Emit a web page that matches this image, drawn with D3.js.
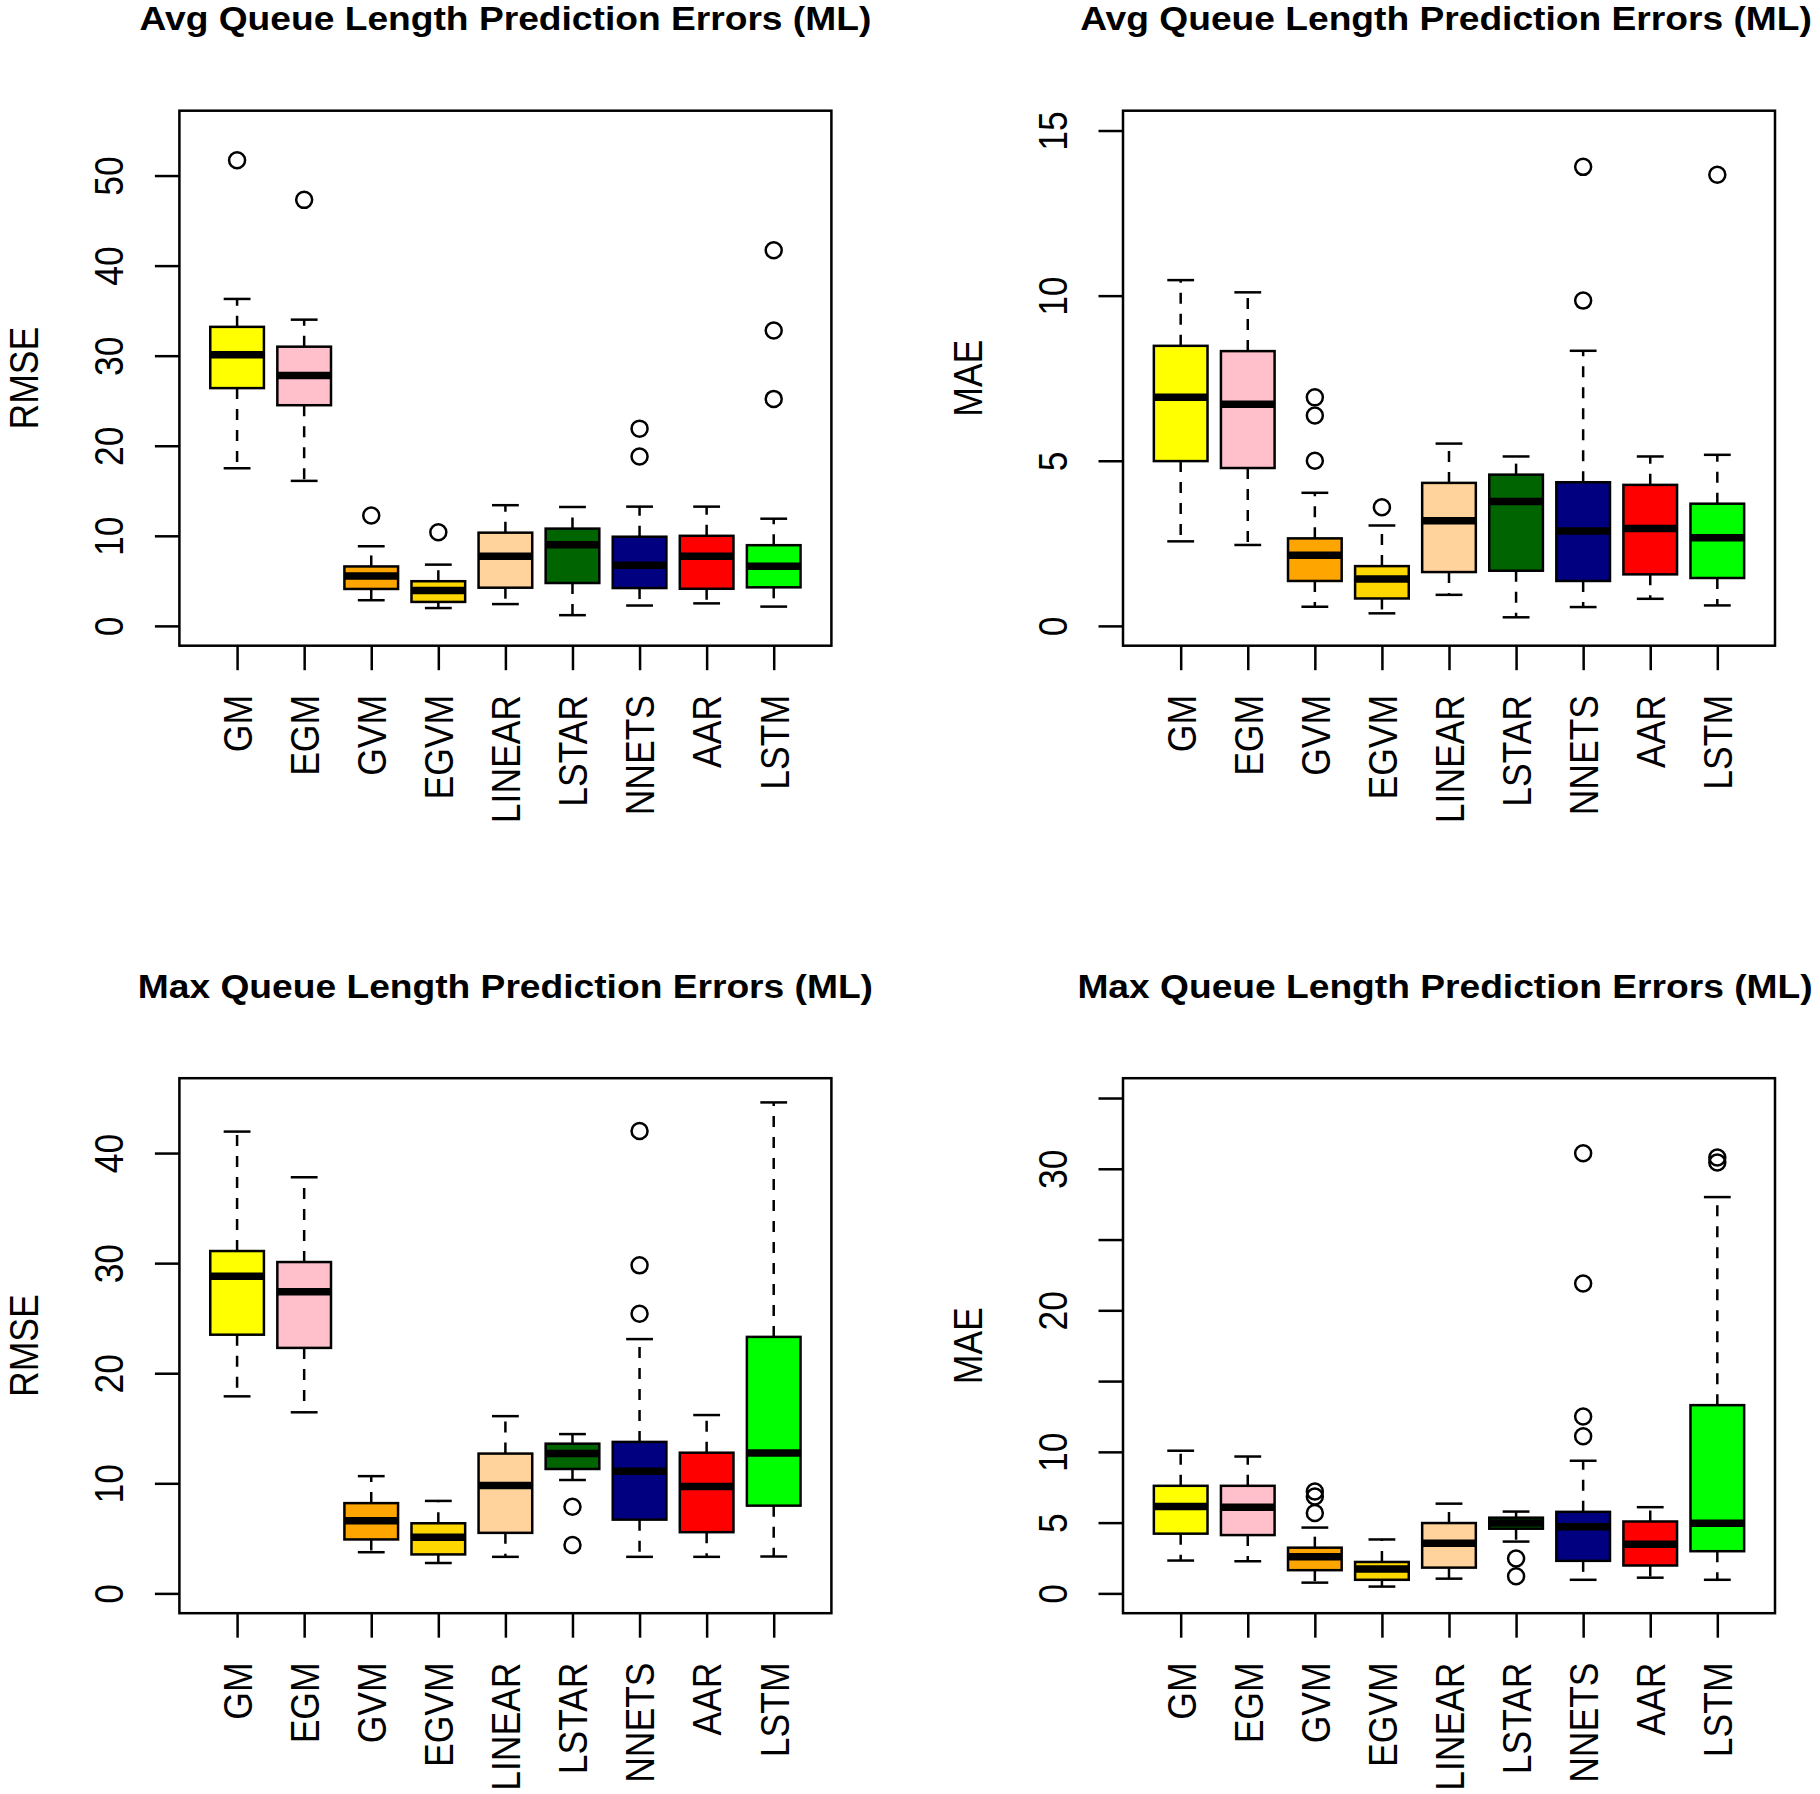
<!DOCTYPE html>
<html>
<head>
<meta charset="utf-8">
<script src="https://cdn.jsdelivr.net/npm/d3@7"></script>
<style>
  html, body { margin: 0; padding: 0; background: #ffffff; }
  svg { display: block; }
</style>
</head>
<body>
<svg id="chart" width="1820" height="1794"></svg>
<script>
// ---------------- DATA ----------------
const categories = ["GM", "EGM", "GVM", "EGVM", "LINEAR", "LSTAR", "NNETS", "AAR", "LSTM"];
const boxColors = ["#FFFF00", "#FFC0CB", "#FFA500", "#FFD700", "#FFD39B", "#006400", "#000080", "#FF0000", "#00FF00"];

// stats per category: [lower whisker, Q1, median, Q3, upper whisker]
const avgRmseStats = [
  [17.5, 26.4, 30.1, 33.2, 36.3],
  [16.1, 24.5, 27.8, 31.0, 34.0],
  [2.85, 4.1, 5.55, 6.6, 8.84],
  [1.98, 2.66, 3.93, 4.96, 6.8],
  [2.42, 4.24, 7.73, 10.35, 13.4],
  [1.19, 4.76, 9.0, 10.8, 13.2],
  [2.26, 4.2, 6.74, 9.9, 13.24],
  [2.5, 4.12, 7.73, 10.0, 13.24],
  [2.14, 4.28, 6.62, 8.96, 11.9]
];
const avgRmseOutliers = [[51.7], [47.3], [12.25], [10.4], [], [], [18.8, 21.9], [], [25.2, 32.8, 41.7]];

const avgMaeStats = [
  [2.56, 4.99, 6.92, 8.48, 10.47],
  [2.45, 4.78, 6.71, 8.32, 10.1],
  [0.58, 1.36, 2.14, 2.65, 4.03],
  [0.38, 0.83, 1.42, 1.81, 3.04],
  [0.94, 1.63, 3.18, 4.33, 5.52],
  [0.26, 1.67, 3.77, 4.58, 5.13],
  [0.57, 1.36, 2.87, 4.35, 8.33],
  [0.82, 1.56, 2.95, 4.27, 5.13],
  [0.62, 1.45, 2.67, 3.7, 5.18]
];
const avgMaeOutliers = [[], [], [5.0, 6.37, 6.92], [3.59], [], [], [9.85, 13.9], [], [13.66]];

const maxRmseStats = [
  [17.9, 23.5, 28.8, 31.1, 41.95],
  [16.45, 22.3, 27.4, 30.1, 37.8],
  [3.74, 4.9, 6.6, 8.2, 10.65],
  [2.76, 3.54, 5.1, 6.37, 8.4],
  [3.32, 5.5, 9.79, 12.7, 16.1],
  [10.3, 11.3, 12.7, 13.6, 14.47],
  [3.32, 6.7, 11.1, 13.76, 23.1],
  [3.32, 5.56, 9.7, 12.78, 16.2],
  [3.35, 7.97, 12.75, 23.3, 44.6]
];
const maxRmseOutliers = [[], [], [], [], [], [4.39, 7.87], [25.4, 29.8, 42.0], [], []];

const maxMaeStats = [
  [2.32, 4.22, 6.14, 7.6, 10.08],
  [2.27, 4.12, 6.09, 7.6, 9.67],
  [0.76, 1.64, 2.58, 3.23, 4.65],
  [0.48, 0.96, 1.72, 2.22, 3.81],
  [1.04, 1.82, 3.54, 4.97, 6.34],
  [3.66, 4.57, 4.97, 5.35, 5.78],
  [0.96, 2.3, 4.7, 5.76, 9.37],
  [1.11, 1.97, 3.48, 5.08, 6.09],
  [0.96, 2.98, 4.95, 13.3, 28.0]
];
const maxMaeOutliers = [[], [], [5.68, 6.84, 7.2], [], [], [1.21, 2.47], [11.1, 12.5, 21.9, 31.1], [], [30.45, 30.8]];

const avgRmseTicks = [0, 10, 20, 30, 40, 50];
const avgMaeTicks = [0, 5, 10, 15];
const maxRmseTicks = [0, 10, 20, 30, 40];
const maxMaeTicks = [0, 5, 10, 15, 20, 25, 30, 35];
const maxMaeTickLabels = ["0", "5", "10", "", "20", "", "30", ""];

const avgTitle = "Avg Queue Length Prediction Errors (ML)";
const maxTitle = "Max Queue Length Prediction Errors (ML)";

// ---------------- LAYOUT ----------------
const svg = d3.select("#chart");
svg.append("rect").attr("width", 1820).attr("height", 1794).attr("fill", "#ffffff");

const FONT = "'Liberation Sans', Arial, Helvetica, sans-serif";
const AXIS_FS = 35.5;
const TITLE_FS = 33.5;
const SX = 1.12;      // horizontal stretch of glyphs seen in the reference
const TSX = 1.11;
const LW = 2.5;

const panels = [
  { title: avgTitle, ylab: "RMSE", stats: avgRmseStats, out: avgRmseOutliers, ylim: [0, 55], ticks: avgRmseTicks, labels: avgRmseTicks.map(String), left: 179.4, top: 110.7, tdx: 0 },
  { title: avgTitle, ylab: "MAE", stats: avgMaeStats, out: avgMaeOutliers, ylim: [0, 15], ticks: avgMaeTicks, labels: avgMaeTicks.map(String), left: 1123, top: 110.7, tdx: -3 },
  { title: maxTitle, ylab: "RMSE", stats: maxRmseStats, out: maxRmseOutliers, ylim: [0, 45], ticks: maxRmseTicks, labels: maxRmseTicks.map(String), left: 179.4, top: 1078.2, tdx: 0 },
  { title: maxTitle, ylab: "MAE", stats: maxMaeStats, out: maxMaeOutliers, ylim: [0, 35], ticks: maxMaeTicks, labels: maxMaeTickLabels, left: 1123, top: 1078.2, tdx: -4 }
];

const PW = 652, PH = 535;

panels.forEach(p => {
  const g = svg.append("g");
  const x = d3.scalePoint().domain(categories).range([p.left, p.left + PW]).padding(0.86);
  const step = x.step();
  const span = p.ylim[1] - p.ylim[0];
  const y = d3.scaleLinear()
    .domain([p.ylim[0] - 0.04 * span, p.ylim[1] + 0.04 * span])
    .range([p.top + PH, p.top]);
  const bottom = p.top + PH;

  // title
  g.append("text")
    .attr("transform", `translate(${p.left + PW / 2 + p.tdx},${p.top - 80.5}) scale(${TSX},1)`)
    .attr("text-anchor", "middle")
    .attr("font-family", FONT)
    .attr("font-weight", "bold")
    .attr("font-size", TITLE_FS)
    .text(p.title);

  // y axis label
  g.append("text")
    .attr("transform", `translate(${p.left - 141.4},${p.top + PH / 2}) scale(${SX},1) rotate(-90)`)
    .attr("text-anchor", "middle")
    .attr("font-family", FONT)
    .attr("font-size", AXIS_FS)
    .text(p.ylab);

  // y axis
  const yAxis = g.append("g")
    .attr("transform", `translate(${p.left},0)`)
    .call(d3.axisLeft(y).tickValues(p.ticks).tickSize(24.5).tickSizeOuter(0)
      .tickFormat((d, i) => p.labels[i]));
  yAxis.select(".domain").remove();
  yAxis.selectAll(".tick line").attr("stroke", "#000").attr("stroke-width", LW);
  yAxis.selectAll(".tick text")
    .attr("x", null).attr("dy", null)
    .attr("text-anchor", "middle")
    .attr("fill", "#000")
    .attr("font-family", FONT)
    .attr("font-size", AXIS_FS)
    .attr("transform", `translate(${123.5 - 179.4},0) scale(${SX},1) rotate(-90)`);

  // x axis
  const xAxis = g.append("g")
    .attr("transform", `translate(0,${bottom})`)
    .call(d3.axisBottom(x).tickSize(24.5).tickSizeOuter(0));
  xAxis.select(".domain").remove();
  xAxis.selectAll(".tick line").attr("stroke", "#000").attr("stroke-width", LW);
  xAxis.selectAll(".tick text")
    .attr("y", null).attr("dy", "0.36em")
    .attr("text-anchor", "end")
    .attr("fill", "#000")
    .attr("font-family", FONT)
    .attr("font-size", AXIS_FS)
    .attr("transform", `translate(0,49.3) scale(${SX},1) rotate(-90)`);

  // boxplots
  const hw = 0.4 * step;   // half box width
  const sw = 0.2 * step;   // half staple width
  const items = categories.map((c, i) => ({ c, i, s: p.stats[i], o: p.out[i], col: boxColors[i] }));
  const bg = g.append("g");

  // whiskers
  bg.selectAll(".wu").data(items).join("line")
    .attr("x1", d => x(d.c)).attr("x2", d => x(d.c))
    .attr("y1", d => y(d.s[3])).attr("y2", d => y(d.s[4]))
    .attr("stroke", "#000").attr("stroke-width", LW).attr("stroke-dasharray", "11,10");
  bg.selectAll(".wl").data(items).join("line")
    .attr("x1", d => x(d.c)).attr("x2", d => x(d.c))
    .attr("y1", d => y(d.s[1])).attr("y2", d => y(d.s[0]))
    .attr("stroke", "#000").attr("stroke-width", LW).attr("stroke-dasharray", "11,10");
  // staples
  bg.selectAll(".su").data(items).join("line")
    .attr("x1", d => x(d.c) - sw).attr("x2", d => x(d.c) + sw)
    .attr("y1", d => y(d.s[4])).attr("y2", d => y(d.s[4]))
    .attr("stroke", "#000").attr("stroke-width", LW);
  bg.selectAll(".sl").data(items).join("line")
    .attr("x1", d => x(d.c) - sw).attr("x2", d => x(d.c) + sw)
    .attr("y1", d => y(d.s[0])).attr("y2", d => y(d.s[0]))
    .attr("stroke", "#000").attr("stroke-width", LW);
  // boxes
  bg.selectAll(".bx").data(items).join("rect")
    .attr("x", d => x(d.c) - hw).attr("width", 2 * hw)
    .attr("y", d => y(d.s[3])).attr("height", d => y(d.s[1]) - y(d.s[3]))
    .attr("fill", d => d.col).attr("stroke", "#000").attr("stroke-width", LW);
  // medians
  bg.selectAll(".md").data(items).join("line")
    .attr("x1", d => x(d.c) - hw).attr("x2", d => x(d.c) + hw)
    .attr("y1", d => y(d.s[2])).attr("y2", d => y(d.s[2]))
    .attr("stroke", "#000").attr("stroke-width", 7.5);
  // outliers
  const outs = items.flatMap(d => d.o.map(v => ({ c: d.c, v })));
  bg.selectAll(".ol").data(outs).join("circle")
    .attr("cx", d => x(d.c)).attr("cy", d => y(d.v)).attr("r", 8)
    .attr("fill", "none").attr("stroke", "#000").attr("stroke-width", LW);

  // frame
  g.append("rect")
    .attr("x", p.left).attr("y", p.top).attr("width", PW).attr("height", PH)
    .attr("fill", "none").attr("stroke", "#000").attr("stroke-width", LW);
});
</script>
</body>
</html>
